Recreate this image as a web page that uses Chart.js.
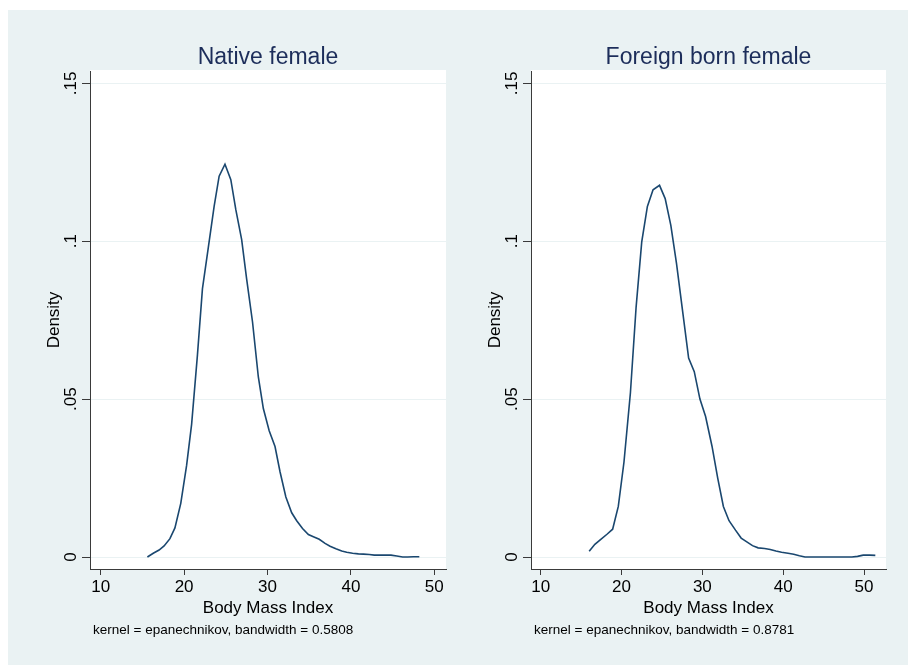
<!DOCTYPE html>
<html>
<head>
<meta charset="utf-8">
<script src="https://cdn.jsdelivr.net/npm/chart.js@4.4.1/dist/chart.umd.min.js"></script>
<style>
  html, body { margin: 0; padding: 0; background: #ffffff; }
  #bg { position: absolute; left: 8px; top: 10px; width: 900px; height: 655px; background: #eaf2f3; }
  .panel { position: absolute; top: 10px; width: 450px; height: 655px; }
</style>
</head>
<body>
<div id="bg"></div>
<div class="panel" style="left:8px"><canvas id="c1" width="450" height="655"></canvas></div>
<div class="panel" style="left:458px"><canvas id="c2" width="450" height="655"></canvas></div>
<script>
// ---- data ----
const xTicks = [10, 20, 30, 40, 50];
const yTicks = [0, 0.05, 0.1, 0.15];
const yTickLabels = ['0', '.05', '.1', '.15'];

const nativeTitle = 'Native female';
const nativeNote = 'kernel = epanechnikov, bandwidth = 0.5808';
const nativeX = [15.6, 16.3, 17.0, 17.6, 18.3, 18.9, 19.6, 20.3, 20.9, 21.6,
                 22.2, 22.9, 23.6, 24.2, 24.9, 25.6, 26.2, 26.9, 27.5, 28.2,
                 28.9, 29.5, 30.2, 30.9, 31.5, 32.2, 32.9, 33.5, 34.2, 34.9,
                 35.5, 36.2, 36.9, 37.5, 38.2, 38.9, 39.5, 40.2, 40.9, 41.5,
                 42.2, 42.8, 43.5, 44.2, 44.8, 45.5, 46.2, 46.8, 47.5, 48.2];
const nativeY = [0.0, 0.0012, 0.0022, 0.0035, 0.0058, 0.0092, 0.017, 0.029, 0.042, 0.064,
                 0.085, 0.098, 0.111, 0.1206, 0.1244, 0.1195, 0.110, 0.1005, 0.088, 0.0745,
                 0.057, 0.047, 0.040, 0.035, 0.027, 0.019, 0.014, 0.0115, 0.009, 0.0071,
                 0.0064, 0.0056, 0.0043, 0.0034, 0.0026, 0.0019, 0.0015, 0.0012, 0.0010, 0.0009,
                 0.0008, 0.0006, 0.0006, 0.0006, 0.0006, 0.0003, 0.0, 0.0, 0.0001, 0.0001];

const foreignTitle = 'Foreign born female';
const foreignNote = 'kernel = epanechnikov, bandwidth = 0.8781';
const foreignX = [16.0, 16.7, 17.4, 18.2, 18.9, 19.6, 20.3, 21.1, 21.8, 22.5,
                  23.2, 23.9, 24.7, 25.4, 26.1, 26.8, 27.6, 28.3, 29.0, 29.7,
                  30.4, 31.2, 31.9, 32.6, 33.3, 34.1, 34.8, 35.5, 36.2, 36.9,
                  37.7, 38.4, 39.1, 39.8, 40.6, 41.3, 42.0, 42.7, 43.4, 44.2,
                  44.9, 45.6, 46.3, 47.1, 47.8, 48.5, 49.2, 49.9, 50.7, 51.4];
const foreignY = [0.0018, 0.004, 0.0055, 0.0072, 0.0088, 0.016, 0.030, 0.052, 0.079, 0.0998,
                  0.111, 0.1163, 0.1177, 0.1135, 0.105, 0.093, 0.077, 0.063, 0.0587, 0.050,
                  0.0445, 0.035, 0.025, 0.016, 0.0115, 0.0085, 0.006, 0.0048, 0.0036, 0.0029,
                  0.0027, 0.0024, 0.0019, 0.0015, 0.0012, 0.0009, 0.0004, 0.0, 0.0, 0.0,
                  0.0, 0.0, 0.0, 0.0, 0.0, 0.0, 0.0002, 0.0006, 0.0006, 0.0005];

// ---- styling ----
const FONT = '"Liberation Sans", Arial, Helvetica, sans-serif';
const LINE = '#1a476f';
const NAVY = '#1c2d5a';
const AXIS = '#3a3a3a';
const GRID = '#eaf2f3';

const panelPlugin = {
  id: 'panelText',
  beforeDraw(chart) {
    const a = chart.chartArea, ctx = chart.ctx;
    ctx.save();
    ctx.fillStyle = '#ffffff';
    ctx.fillRect(a.left, a.top - 1, a.right - a.left, a.bottom - a.top + 1);
    ctx.restore();
  },
  afterDraw(chart) {
    const o = chart.options.plugins.panelText;
    const a = chart.chartArea, ctx = chart.ctx;
    const xs = chart.scales.x, ys = chart.scales.y;
    ctx.save();
    // title
    ctx.fillStyle = NAVY;
    ctx.font = '23px ' + FONT;
    ctx.textAlign = 'center';
    ctx.textBaseline = 'alphabetic';
    ctx.fillText(o.title, (a.left + a.right) / 2, a.top - 7);
    // x tick labels
    ctx.fillStyle = '#000';
    ctx.font = '17px ' + FONT;
    xTicks.forEach(v => ctx.fillText(String(v), xs.getPixelForValue(v), a.bottom + 23));
    // x title
    ctx.fillText('Body Mass Index', (a.left + a.right) / 2, a.bottom + 43.5);
    // note
    ctx.textAlign = 'left';
    ctx.font = '13.5px ' + FONT;
    ctx.fillText(o.note, a.left + 3, a.bottom + 64.5);
    // y tick labels (rotated)
    ctx.font = '17px ' + FONT;
    ctx.textAlign = 'center';
    yTicks.forEach((v, i) => {
      ctx.save();
      ctx.translate(a.left - 14, ys.getPixelForValue(v));
      ctx.rotate(-Math.PI / 2);
      ctx.fillText(yTickLabels[i], 0, 0);
      ctx.restore();
    });
    // y title
    ctx.save();
    ctx.translate(a.left - 31, (a.top + a.bottom) / 2);
    ctx.rotate(-Math.PI / 2);
    ctx.fillText('Density', 0, 0);
    ctx.restore();
    ctx.restore();
  }
};

function makeChart(id, xs, ys, title, note, yWidth, padRight, xMin, xMax) {
  const pts = xs.map((x, i) => ({ x: x, y: ys[i] }));
  return new Chart(document.getElementById(id), {
    type: 'line',
    data: { datasets: [{ data: pts, borderColor: LINE, borderWidth: 1.6, pointRadius: 0, tension: 0, fill: false }] },
    options: {
      responsive: false,
      animation: false,
      events: [],
      layout: { padding: { top: 61, right: padRight, left: 0, bottom: 0 } },
      plugins: {
        legend: { display: false },
        tooltip: { enabled: false },
        title: { display: false },
        panelText: { title: title, note: note }
      },
      scales: {
        x: {
          type: 'linear', min: xMin, max: xMax,
          afterBuildTicks(s) { s.ticks = xTicks.map(v => ({ value: v })); },
          afterFit(s) { s.height = 96; },
          ticks: { display: false },
          grid: { drawOnChartArea: false, drawTicks: true, tickLength: 6, tickColor: AXIS, lineWidth: 1 },
          border: { display: true, color: AXIS, width: 1 }
        },
        y: {
          type: 'linear', min: -0.0038, max: 0.1539,
          afterBuildTicks(s) { s.ticks = yTicks.map(v => ({ value: v })); },
          afterFit(s) { s.width = yWidth; },
          ticks: { display: false },
          grid: { drawOnChartArea: true, color: GRID, lineWidth: 1, drawTicks: true, tickLength: 8, tickColor: AXIS },
          border: { display: true, color: AXIS, width: 1 }
        }
      }
    },
    plugins: [panelPlugin]
  });
}

makeChart('c1', nativeX, nativeY, nativeTitle, nativeNote, 82, 12, 8.717, 51.40);
makeChart('c2', foreignX, foreignY, foreignTitle, foreignNote, 73, 22, 8.80, 52.72);
</script>
</body>
</html>
